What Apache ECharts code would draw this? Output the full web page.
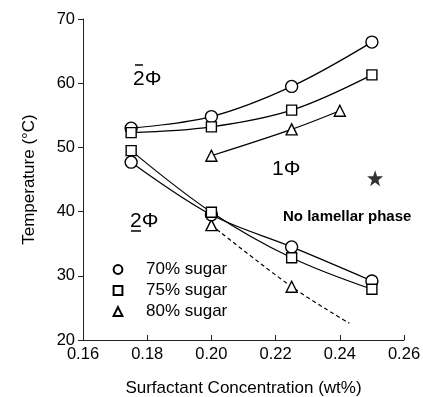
<!DOCTYPE html>
<html>
<head>
<meta charset="utf-8">
<script src="https://cdn.jsdelivr.net/npm/echarts@6/dist/echarts.min.js"></script>
<style>
  html, body { margin: 0; padding: 0; background: #fff; }
  #chart { width: 423px; height: 397px; }
</style>
</head>
<body>
<div id="chart"></div>
<script>
var FONT = "'Liberation Sans', Arial, sans-serif";

// x = surfactant concentration (wt%), y = temperature (°C)
var sugar70Upper = [[0.175, 53.0], [0.200, 54.8], [0.225, 59.5], [0.250, 66.4]];
var sugar70Lower = [[0.175, 47.7], [0.200, 39.5], [0.225, 34.5], [0.250, 29.2]];
var sugar75Upper = [[0.175, 52.3], [0.200, 53.2], [0.225, 55.8], [0.250, 61.3]];
var sugar75Lower = [[0.175, 49.5], [0.200, 39.9], [0.225, 32.8], [0.250, 27.9]];
var sugar80Upper = [[0.200, 48.7], [0.225, 52.8], [0.240, 55.7]];
var sugar80Lower = [[0.200, 37.9], [0.225, 28.3]];
var sugar80Trend = [0.243, 22.6];   // end of the dashed extrapolation
var noLamellar = [[0.251, 45.2]];

var legendNames = ['70% sugar', '75% sugar', '80% sugar'];

var myChart = echarts.init(document.getElementById('chart'));

function curve(name, data, symbol, dashed) {
    return {
        name: name,
        type: 'line',
        data: data,
        smooth: 0.35,
        symbol: symbol,
        symbolSize: symbol === 'triangle' ? 11 : (symbol === 'rect' ? 10 : 12),
        showAllSymbol: true,
        itemStyle: { color: '#fff', borderColor: '#000', borderWidth: 1.4 },
        lineStyle: { color: '#000', width: 1.2, type: dashed ? [4, 3] : 'solid' },
        emphasis: { disabled: true },
        z: dashed ? 1 : 2
    };
}

var tail = sugar80Lower.concat([{ value: sugar80Trend, symbol: 'none' }]);

var star = 'path://M0,-10L2.35,-3.24L9.51,-3.09L3.8,1.24L5.88,8.09L0,4L-5.88,8.09L-3.8,1.24L-9.51,-3.09L-2.35,-3.24Z';

var option = {
    animation: false,
    textStyle: { fontFamily: FONT },
    grid: { left: 83, right: 19, top: 19, bottom: 57, outerBoundsMode: 'none', containLabel: false },
    legend: {
        data: legendNames,
        orient: 'vertical',
        left: 89,
        top: 256,
        itemWidth: 46,
        itemHeight: 11,
        itemGap: 4,
        selectedMode: false,
        lineStyle: { opacity: 0 },
        itemStyle: { color: '#fff', borderColor: '#000', borderWidth: 2 },
        textStyle: { fontFamily: FONT, fontSize: 17, color: '#000' }
    },
    xAxis: {
        type: 'value',
        min: 0.16,
        max: 0.26,
        interval: 0.02,
        name: 'Surfactant Concentration (wt%)',
        nameLocation: 'middle',
        nameGap: 40,
        nameTextStyle: { fontFamily: FONT, fontSize: 17, color: '#000' },
        axisLine: { lineStyle: { color: '#222', width: 1 } },
        axisTick: { inside: true, length: 5, lineStyle: { color: '#222' } },
        axisLabel: {
            fontFamily: FONT, fontSize: 16.5, color: '#000', margin: 6,
            formatter: function (v) { return v.toFixed(2); }
        },
        splitLine: { show: false }
    },
    yAxis: {
        type: 'value',
        min: 20,
        max: 70,
        interval: 10,
        name: 'Temperature (°C)',
        nameLocation: 'middle',
        nameGap: 45,
        nameTextStyle: { fontFamily: FONT, fontSize: 17, color: '#000' },
        axisLine: { show: true, lineStyle: { color: '#222', width: 1 } },
        axisTick: { show: true, inside: false, length: 5, lineStyle: { color: '#222' } },
        axisLabel: { fontFamily: FONT, fontSize: 16.5, color: '#000', margin: 8 },
        splitLine: { show: false }
    },
    series: [
        curve('70% sugar', sugar70Upper, 'circle'),
        curve('70% sugar', sugar70Lower, 'circle'),
        curve('75% sugar', sugar75Upper, 'rect'),
        curve('75% sugar', sugar75Lower, 'rect'),
        curve('80% sugar', sugar80Upper, 'triangle'),
        curve('80% sugar', tail, 'triangle', true),
        {
            name: 'no lamellar',
            type: 'scatter',
            data: noLamellar,
            symbol: star,
            symbolSize: 16,
            itemStyle: { color: '#000' },
            emphasis: { disabled: true }
        }
    ],
    graphic: [
        { type: 'text', left: 133, top: 69, style: { text: '2Φ', font: '21px ' + FONT, fill: '#000' } },
        { type: 'line', shape: { x1: 135, y1: 65, x2: 143, y2: 65 }, style: { stroke: '#000', lineWidth: 1.5 } },
        { type: 'text', left: 272, top: 159, style: { text: '1Φ', font: '21px ' + FONT, fill: '#000' } },
        { type: 'text', left: 130, top: 211, style: { text: '2Φ', font: '21px ' + FONT, fill: '#000' } },
        { type: 'line', shape: { x1: 131, y1: 231, x2: 141, y2: 231 }, style: { stroke: '#000', lineWidth: 1.5 } },
        { type: 'text', left: 283, top: 209, style: { text: 'No lamellar phase', font: 'bold 15px ' + FONT, fill: '#000' } }
    ]
};

myChart.setOption(option, true);
window.onresize = myChart.resize;
</script>
</body>
</html>
